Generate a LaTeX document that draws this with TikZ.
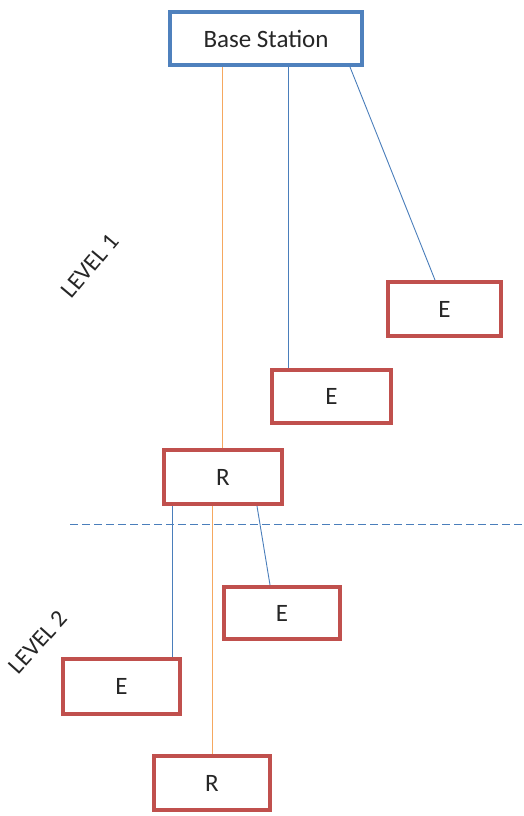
\documentclass[tikz,border=0pt]{standalone}
\usepackage{fontspec}
\setmainfont{Carlito}
\definecolor{bsblue}{HTML}{4F81BD}
\definecolor{boxred}{HTML}{C0504D}
\definecolor{linkblue}{HTML}{4A7EBB}
\definecolor{linkorange}{HTML}{F5A860}
\definecolor{txt}{HTML}{262626}
\begin{document}
\begin{tikzpicture}[x=1pt,y=-1pt,
  box/.style={draw=boxred,line width=4pt,fill=white,inner sep=0pt,text=txt,
    font=\fontsize{25}{29}\selectfont},
  bsbox/.style={box,draw=bsblue},
  bluelink/.style={draw=linkblue,line width=0.9pt},
  orangelink/.style={draw=linkorange,line width=0.9pt},
  levellbl/.style={text=txt,font=\fontsize{24}{28}\selectfont,inner sep=0pt}]
\useasboundingbox (0,0) rectangle (523,816);
% named x positions
\coordinate (x172) at (172,0);
\coordinate (x212) at (212,0);
\coordinate (x222) at (222,0);
\coordinate (x257) at (257,0);
\coordinate (x270) at (270,0);
\coordinate (x288) at (288,0);
\coordinate (x350) at (350,0);
\coordinate (x435) at (435,0);
\coordinate (dl) at (70,524);
\coordinate (dr) at (523,524);
% boxes
\node[bsbox,minimum width=192pt,minimum height=53pt] (bs) at (266,38.5) {Base Station};
\node[box,minimum width=113pt,minimum height=54pt] (e1) at (444.5,309) {E};
\node[box,minimum width=119pt,minimum height=53pt] (e2) at (331.5,396.5) {E};
\node[box,minimum width=118pt,minimum height=54pt] (r1) at (223,477) {R};
\node[box,minimum width=116pt,minimum height=52pt] (e3) at (282,613) {E};
\node[box,minimum width=117pt,minimum height=55pt] (e4) at (121.5,686.5) {E};
\node[box,minimum width=116pt,minimum height=54pt] (r2) at (212,783) {R};
% links
\draw[orangelink] (bs.south -| x222) -- (r1.north -| x222);
\draw[bluelink] (bs.south -| x288) -- (e2.north -| x288);
\draw[bluelink] (bs.south -| x350) -- (e1.north -| x435);
\draw[bluelink] (r1.south -| x172) -- (e4.north -| x172);
\draw[orangelink] (r1.south -| x212) -- (r2.north -| x212);
\draw[bluelink] (r1.south -| x257) -- (e3.north -| x270);
% dashed level separator
\draw[draw=linkblue,line width=1pt,dash pattern=on 8pt off 4pt] (dl) -- (dr);
% level labels
\node[levellbl,rotate=50] (lv1) at (90,266) {LEVEL 1};
\node[levellbl,rotate=48] (lv2) at (38,642) {LEVEL 2};
\end{tikzpicture}
\end{document}
